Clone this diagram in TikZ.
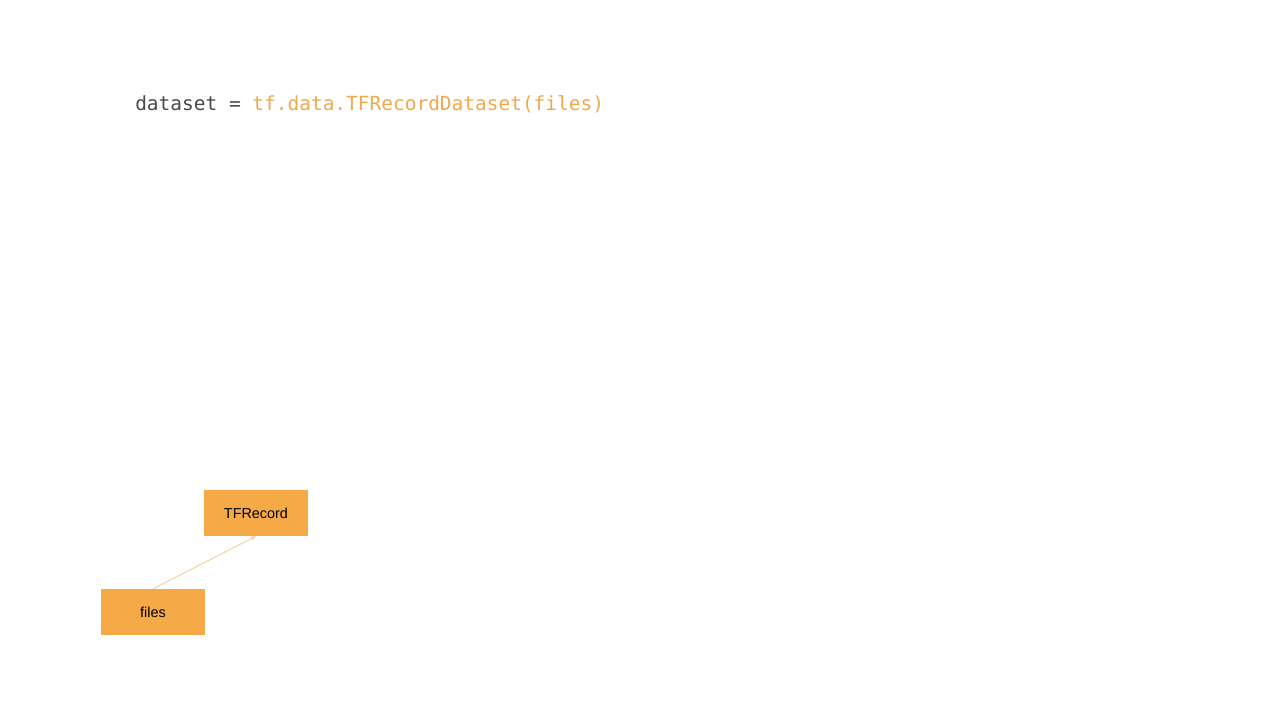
\documentclass[tikz,border=0pt]{standalone}
\usepackage{fontspec}
\setmainfont{Liberation Sans}
\newfontfamily\codefont{DejaVu Sans Mono}
\usetikzlibrary{arrows.meta}
\definecolor{boxorange}{HTML}{F5A947}
\definecolor{codeorange}{HTML}{EFAA4E}
\definecolor{codegray}{HTML}{4A4A4A}
\definecolor{linkorange}{HTML}{F6C98E}
\tikzset{
  databox/.style={fill=boxorange, draw=none, minimum width=104*0.75pt, minimum height=46*0.75pt, inner sep=0pt, font=\fontsize{10.8pt}{12pt}\selectfont, text=black},
  link/.style={draw=linkorange, line width=0.6pt, -{Stealth[length=4pt,width=3pt]}},
  code/.style={anchor=west, inner sep=0pt, font=\codefont\fontsize{14.6pt}{17pt}\selectfont}
}
\begin{document}
\begin{tikzpicture}[x=0.75pt, y=-0.75pt]
\useasboundingbox[fill=white] (0,0) rectangle (1280,720);
\node[code] (codeline) at (135,104) {\textcolor{codegray}{dataset =} \textcolor{codeorange}{tf.data.TFRecordDataset(files)}};
\node[databox] (tfrecord) at (256,513) {TFRecord};
\node[databox] (files) at (153,612) {files};
\draw[link] (files.north) -- (tfrecord.south);
\end{tikzpicture}
\end{document}
